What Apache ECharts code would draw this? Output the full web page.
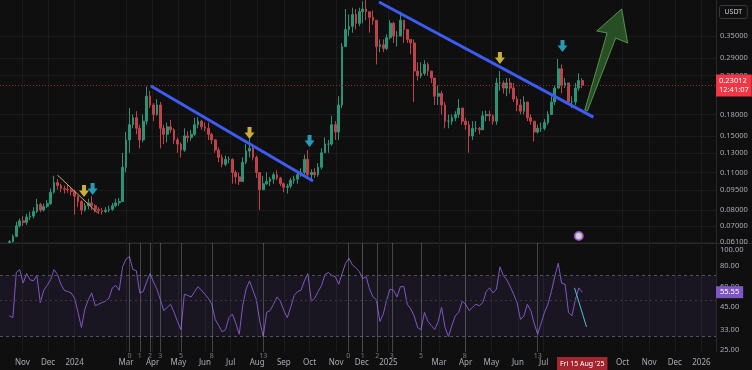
<!DOCTYPE html>
<html><head><meta charset="utf-8">
<script src="https://cdn.jsdelivr.net/npm/echarts@6/dist/echarts.min.js"></script>
<style>html,body{margin:0;padding:0;background:#0f0f0f;overflow:hidden}#c{width:752px;height:370px}</style>
</head><body><div id="c"></div>
<script>
// ---------- DATA ----------
const START_DATE = '2023-10-17';   // first 4-day candle
const STEP_DAYS = 4;
const firstOpen = 0.0608;
const closes = [
0.0612,0.0640,0.0700,0.0730,0.0720,0.0755,0.0760,0.0790,0.0840,0.0800,
0.0825,0.0845,0.0930,0.1010,0.0985,0.0960,0.0955,0.0950,0.0935,0.0900,
0.0860,0.0800,0.0830,0.0850,0.0830,0.0805,0.0795,0.0790,0.0800,0.0805,
0.0830,0.0850,0.0860,0.1150,0.1450,0.1650,0.1750,0.1600,0.1450,0.1700,
0.2100,0.1950,0.1800,0.1950,0.1600,0.1520,0.1620,0.1580,0.1450,0.1400,
0.1330,0.1500,0.1480,0.1520,0.1650,0.1700,0.1620,0.1600,0.1520,0.1450,
0.1330,0.1250,0.1180,0.1230,0.1230,0.1100,0.1060,0.1020,0.1200,0.1320,
0.1350,0.1250,0.1100,0.0950,0.1000,0.1020,0.1040,0.1080,0.1050,0.1000,
0.0970,0.0980,0.1030,0.1040,0.1080,0.1100,0.1230,0.1080,0.1100,0.1080,
0.1150,0.1300,0.1400,0.1400,0.1650,0.1550,0.1950,0.3200,0.3700,0.3800,
0.4200,0.3900,0.4300,0.4400,0.4300,0.4100,0.4000,0.3200,0.3250,0.3150,
0.3450,0.3900,0.3500,0.3500,0.4000,0.3700,0.3400,0.3300,0.2600,0.2500,
0.2550,0.2750,0.2600,0.2450,0.2100,0.2150,0.1950,0.1700,0.1700,0.1750,
0.1800,0.1900,0.1700,0.1650,0.1500,0.1600,0.1600,0.1580,0.1780,0.1800,
0.1780,0.1700,0.2350,0.2350,0.2250,0.2350,0.2250,0.2050,0.1950,0.1850,
0.2000,0.1750,0.1700,0.1550,0.1600,0.1600,0.1680,0.1800,0.2000,0.2250,
0.2650,0.2300,0.2350,0.2000,0.2000,0.2250,0.2400,0.23012];
const highs = [
0.0620,0.0650,0.0725,0.0745,0.0760,0.0775,0.0790,0.0820,0.0880,0.0850,
0.0845,0.0870,0.0960,0.1070,0.1040,0.1000,0.0985,0.0990,0.0970,0.0950,
0.0905,0.0870,0.0850,0.0880,0.0900,0.0840,0.0820,0.0815,0.0820,0.0830,
0.0850,0.0880,0.0885,0.1300,0.1550,0.1900,0.1800,0.1850,0.1650,0.1800,
0.2280,0.2200,0.1980,0.2050,0.2000,0.1650,0.1680,0.1720,0.1600,0.1480,
0.1420,0.1600,0.1560,0.1580,0.1750,0.1760,0.1720,0.1680,0.1680,0.1540,
0.1460,0.1360,0.1280,0.1270,0.1260,0.1240,0.1120,0.1100,0.1250,0.1400,
0.1460,0.1380,0.1270,0.1080,0.1070,0.1100,0.1060,0.1100,0.1120,0.1060,
0.1010,0.1000,0.1050,0.1070,0.1100,0.1140,0.1280,0.1330,0.1130,0.1140,
0.1190,0.1350,0.1480,0.1450,0.1780,0.1700,0.2100,0.3300,0.4400,0.4200,
0.4450,0.4400,0.4450,0.4700,0.4840,0.4300,0.4350,0.3950,0.3400,0.3400,
0.3550,0.4000,0.3950,0.3650,0.4300,0.4000,0.3650,0.3400,0.3400,0.2800,
0.2800,0.2850,0.2800,0.2600,0.2400,0.2300,0.2200,0.2000,0.1800,0.1800,
0.1850,0.2050,0.1900,0.1750,0.1700,0.1700,0.1700,0.1620,0.1850,0.1860,
0.1860,0.1800,0.2450,0.2600,0.2400,0.2450,0.2450,0.2350,0.2100,0.2050,
0.2100,0.2000,0.1800,0.1700,0.1650,0.1680,0.1730,0.1850,0.2100,0.2300,
0.2880,0.2750,0.2450,0.2350,0.2100,0.2350,0.2550,0.2450];
const lows = [
0.0606,0.0608,0.0635,0.0690,0.0700,0.0705,0.0735,0.0745,0.0780,0.0785,
0.0790,0.0815,0.0835,0.0920,0.0950,0.0930,0.0920,0.0925,0.0905,0.0770,
0.0820,0.0770,0.0790,0.0805,0.0800,0.0785,0.0775,0.0770,0.0780,0.0785,
0.0795,0.0820,0.0830,0.0860,0.1100,0.1300,0.1600,0.1520,0.1350,0.1420,
0.1650,0.1900,0.1700,0.1780,0.1350,0.1400,0.1420,0.1540,0.1400,0.1300,
0.1250,0.1310,0.1420,0.1440,0.1500,0.1600,0.1580,0.1560,0.1450,0.1400,
0.1300,0.1200,0.1150,0.1160,0.1190,0.1000,0.1000,0.0990,0.1040,0.1180,
0.1250,0.1220,0.1050,0.0800,0.0950,0.0990,0.0980,0.1000,0.1030,0.0980,
0.0930,0.0920,0.0960,0.1000,0.1000,0.1060,0.1080,0.1050,0.1040,0.1050,
0.1060,0.1130,0.1300,0.1300,0.1380,0.1450,0.1450,0.1900,0.3200,0.3500,
0.3600,0.3700,0.3800,0.3900,0.4000,0.3600,0.3850,0.2750,0.3050,0.3050,
0.3100,0.3400,0.3300,0.3200,0.3500,0.3300,0.3300,0.3000,0.2000,0.2400,
0.2450,0.2500,0.2500,0.2350,0.1950,0.1950,0.1800,0.1600,0.1600,0.1650,
0.1700,0.1750,0.1650,0.1580,0.1300,0.1450,0.1550,0.1520,0.1580,0.1700,
0.1700,0.1650,0.1650,0.2200,0.2150,0.2100,0.2150,0.2000,0.1850,0.1800,
0.1800,0.1700,0.1650,0.1430,0.1530,0.1550,0.1570,0.1650,0.1800,0.1950,
0.2250,0.2150,0.2250,0.1950,0.1900,0.1950,0.2200,0.2250];
const rsi = [
40,39,73,76,63,72,66,65,70,48,
57,61,66,76,71,62,57,56,55,51,
42,34,44,50,55,46,47,48,49,51,
59,61,57,79,88,91,76,75,55,56,
64,72,64,58,50,43,45,47,42,37,
33,54,53,52,56,60,57,54,51,47,
38,35,32,33,39,41,36,31,46,58,
65,57,50,37,30,42,43,47,52,49,
43,39,45,53,56,57,65,72,49,51,
56,61,71,73,70,69,62,72,83,89,
81,78,74,67,69,58,52,50,37,41,
50,58,57,52,60,60,47,44,40,34,
33,42,37,35,33,37,45,34,30,35,
40,42,49,47,43,45,47,46,48,56,
59,55,58,79,70,66,60,54,48,38,
40,47,43,36,31,36,42,47,56,69,
83,63,62,42,40,50,59,55.55];

const priceTicks = [0.35,0.29,0.25,0.18,0.15,0.13,0.11,0.095,0.08,0.07,0.061];
const rsiTicks = [100,80,60,45,33,25];
const monthTicks = ['2023-11-01','2023-12-01','2024-01-01','2024-03-01','2024-04-01','2024-05-01','2024-06-01','2024-07-01','2024-08-01','2024-09-01','2024-10-01','2024-11-01','2024-12-01','2025-01-01','2025-03-01','2025-04-01','2025-05-01','2025-06-01','2025-07-01','2025-10-01','2025-11-01','2025-12-01','2026-01-01'];
const monthLabels = ['Nov','Dec','2024','Mar','Apr','May','Jun','Jul','Aug','Sep','Oct','Nov','Dec','2025','Mar','Apr','May','Jun','Jul','Oct','Nov','Dec','2026'];
const xStart = '2023-10-06', xEnd = '2026-01-18';
const lastPrice = 0.23012, lastTime = '12:41:07', lastRsi = 55.55;
const cursorDate = '2025-08-15', cursorLabel = "Fri 15 Aug '25";

// drawn annotations (date, price)
const trendLines = [
  {color:'#d9a86a', width:1, pts:[['2023-12-12',0.1076],['2024-01-28',0.0780]]},
  {color:'#3d5cf2', width:3, pts:[['2024-03-30',0.2290],['2024-10-05',0.1023]]},
  {color:'#3d5cf2', width:3, pts:[['2024-12-21',0.4670],['2025-08-28',0.1760]]}
];
const signalArrows = [
  ['2024-01-12',0.0940,'#f7d742'],['2024-01-22',0.0956,'#2cbbe0'],
  ['2024-07-23',0.1537,'#f7d742'],['2024-10-01',0.1436,'#2cbbe0'],
  ['2025-05-11',0.2904,'#f7d742'],['2025-07-23',0.3216,'#2cbbe0']
];
const bigArrow = [['2025-08-18',0.1868],['2025-09-13',0.3590],['2025-09-01',0.3652],['2025-09-30',0.4401],['2025-10-07',0.3298],['2025-09-23',0.3440],['2025-08-21',0.1853]];
const eventMark = ['2025-08-11',0.0642];
const rsiSketch = [['2025-08-06',59.0],['2025-08-20',34.3]];
const fibSets = [{start:'2024-03-05', unit:12},{start:'2024-11-15', unit:17}];
const fibSteps = [0,1,2,3,5,8,13];

// ---------- BUILD ----------
function addDays(s,n){const d=new Date(s+'T00:00:00Z');d.setUTCDate(d.getUTCDate()+n);return d.toISOString().slice(0,10);}
function ts(s){const [y,m,d]=s.split('-').map(Number);return Date.UTC(y,m-1,d);}
const dates = closes.map((_,i)=>ts(addDays(START_DATE,i*STEP_DAYS)));
const candles = closes.map((c,i)=>[dates[i], i===0?firstOpen:closes[i-1], c, lows[i], highs[i]]);
const rsiData = rsi.map((v,i)=>[dates[i], v]);
const monthTs = monthTicks.map(ts);
const labelMap = {}; monthTs.forEach((t,i)=>labelMap[t] = monthLabels[i]);

const FONT = '"Noto Sans", Roboto, sans-serif';
const TXT = '#a9acb4';
const GRIDC = '#1b1b1d';
const NONE = 'rgba(0,0,0,0)';

const fibLines = [];
fibSets.forEach(f=>fibSteps.forEach(k=>{
  fibLines.push({xAxis: ts(addDays(f.start, k*f.unit)), label:{formatter:String(k)}});
}));

const xBase = (gi)=>({
  type:'value', gridIndex:gi, min:ts(xStart), max:ts(xEnd), scale:true,
  axisLine:{show:false}, axisTick:{show:false, customValues:monthTs},
  splitLine:{show:true, lineStyle:{color:GRIDC, width:1}},
  axisLabel:{show:gi===1, customValues:monthTs, color:TXT, fontSize:8, fontFamily:FONT, margin:7,
    formatter:(v)=>labelMap[v]!==undefined?labelMap[v]:''}
});
const P = a=>[ts(a[0]), a[1]];

const series = [
  {type:'candlestick', xAxisIndex:0, yAxisIndex:0, clip:false, barWidth:2.2,
   itemStyle:{color:'#2b9477', color0:'#bd4249', borderColor:'#2b9477', borderColor0:'#bd4249', borderWidth:1},
   data:candles,
   markLine:{symbol:'none', silent:true, animation:false,
     data:[{yAxis:lastPrice}],
     lineStyle:{color:'#8e2d34', type:[1,2], width:1},
     label:{position:'end', distance:0, formatter:lastPrice.toFixed(5)+'\n'+lastTime, backgroundColor:'#f23645', color:'#fff',
       fontSize:7.5, fontFamily:FONT, padding:[2,3,2,3], lineHeight:9}}
  }
];
trendLines.forEach(t=>series.push({type:'line', xAxisIndex:0, yAxisIndex:0, data:t.pts.map(P), symbol:'none', silent:true,
  lineStyle:{color:t.color, width:t.width}, z:5, animation:false}));
series.push({type:'scatter', xAxisIndex:0, yAxisIndex:0, z:6, silent:true, animation:false,
  symbol:'path://M3,0 L7,0 L7,5 L10,5 L5,11 L0,5 L3,5 Z', symbolSize:[10,12],
  data:signalArrows.map(a=>({value:P(a), itemStyle:{color:a[2]}}))});
series.push({type:'custom', xAxisIndex:0, yAxisIndex:0, z:6, silent:true, animation:false,
  data:[P(bigArrow[0])],
  renderItem:(p,api)=>({type:'polygon', shape:{points:bigArrow.map(v=>api.coord(P(v)))},
     style:{fill:'rgba(56,120,52,0.6)', stroke:'rgba(100,170,90,0.8)', lineWidth:1}})});
series.push({type:'scatter', xAxisIndex:0, yAxisIndex:0, z:6, silent:true, animation:false,
  symbol:'emptyCircle', symbolSize:8, itemStyle:{color:'#a35bd6', borderWidth:1.2}, data:[P(eventMark)]});
// RSI pane
series.push({type:'line', xAxisIndex:1, yAxisIndex:1, clip:false, data:rsiData, symbol:'none', silent:true, animation:false,
  lineStyle:{color:'#7e57c2', width:1}, z:4,
  markArea:{silent:true, itemStyle:{color:'rgba(126,87,194,0.10)'}, data:[[{yAxis:30},{yAxis:70}]]},
  markLine:{symbol:'none', silent:true, animation:false,
    data:[
      {yAxis:70, lineStyle:{color:'#55525f', type:[3,3], width:1}, label:{show:false}},
      {yAxis:50, lineStyle:{color:'#3a3744', type:[2,3], width:1}, label:{show:false}},
      {yAxis:30, lineStyle:{color:'#55525f', type:[3,3], width:1}, label:{show:false}},
      {yAxis:lastRsi, lineStyle:{color:NONE}, label:{show:true, position:'end', distance:0, formatter:lastRsi.toFixed(2),
        backgroundColor:'#7e57c2', color:'#fff', fontSize:7.5, fontFamily:FONT, padding:[2,4]}}
    ]}
});
series.push({type:'line', xAxisIndex:1, yAxisIndex:1, data:rsiSketch.map(P), symbol:'none', silent:true, animation:false,
  lineStyle:{color:'#4fc3d9', width:1}, z:5});
series.push({type:'line', xAxisIndex:1, yAxisIndex:1, clip:false, data:[], silent:true, animation:false,
  markLine:{symbol:'none', silent:true, animation:false,
    lineStyle:{color:'rgba(170,170,175,0.35)', type:'solid', width:1},
    label:{position:'start', distance:0, color:'#7d7f86', fontSize:7, fontFamily:FONT},
    data:fibLines.concat([{xAxis:ts(cursorDate), lineStyle:{color:NONE},
      label:{position:'start', distance:5, formatter:cursorLabel, backgroundColor:'#a3262f', color:'#fff', fontSize:7, fontFamily:FONT, padding:[3,3]}}])}
});

const chart = echarts.init(document.getElementById('c'), null, {renderer:'canvas'});
chart.setOption({
  backgroundColor:'#0f0f0f',
  animation:false,
  grid:[{left:0, right:36, top:0, height:243}, {left:0, right:36, top:243, height:109}],
  xAxis:[xBase(0), xBase(1)],
  yAxis:[
    {type:'log', gridIndex:0, position:'right', min:0.0605, max:0.475,
     axisLine:{show:true, lineStyle:{color:'#2a2a2e'}},
     axisTick:{show:false, customValues:priceTicks},
     splitLine:{show:true, lineStyle:{color:GRIDC}},
     axisLabel:{customValues:priceTicks, color:TXT, fontSize:7.5, fontFamily:FONT, margin:4, formatter:v=>(+v).toFixed(5)}},
    {type:'log', gridIndex:1, position:'right', min:24.2, max:110,
     axisLine:{show:true, lineStyle:{color:'#2a2a2e'}},
     axisTick:{show:false, customValues:rsiTicks},
     splitLine:{show:false},
     axisLabel:{customValues:rsiTicks, color:TXT, fontSize:7.5, fontFamily:FONT, margin:4, formatter:v=>(+v).toFixed(2)}}
  ],
  graphic:[
    {type:'line', silent:true, shape:{x1:0,y1:243.5,x2:752,y2:243.5}, style:{stroke:'#2a2a2e', lineWidth:1}},
    {type:'text', silent:true, left:719, top:5, style:{text:'USDT', fill:'#c9cbd1', font:'7px '+FONT, padding:[3,5], borderColor:'#3a3a3e', borderWidth:1, borderRadius:2}}
  ],
  series
});
</script></body></html>
